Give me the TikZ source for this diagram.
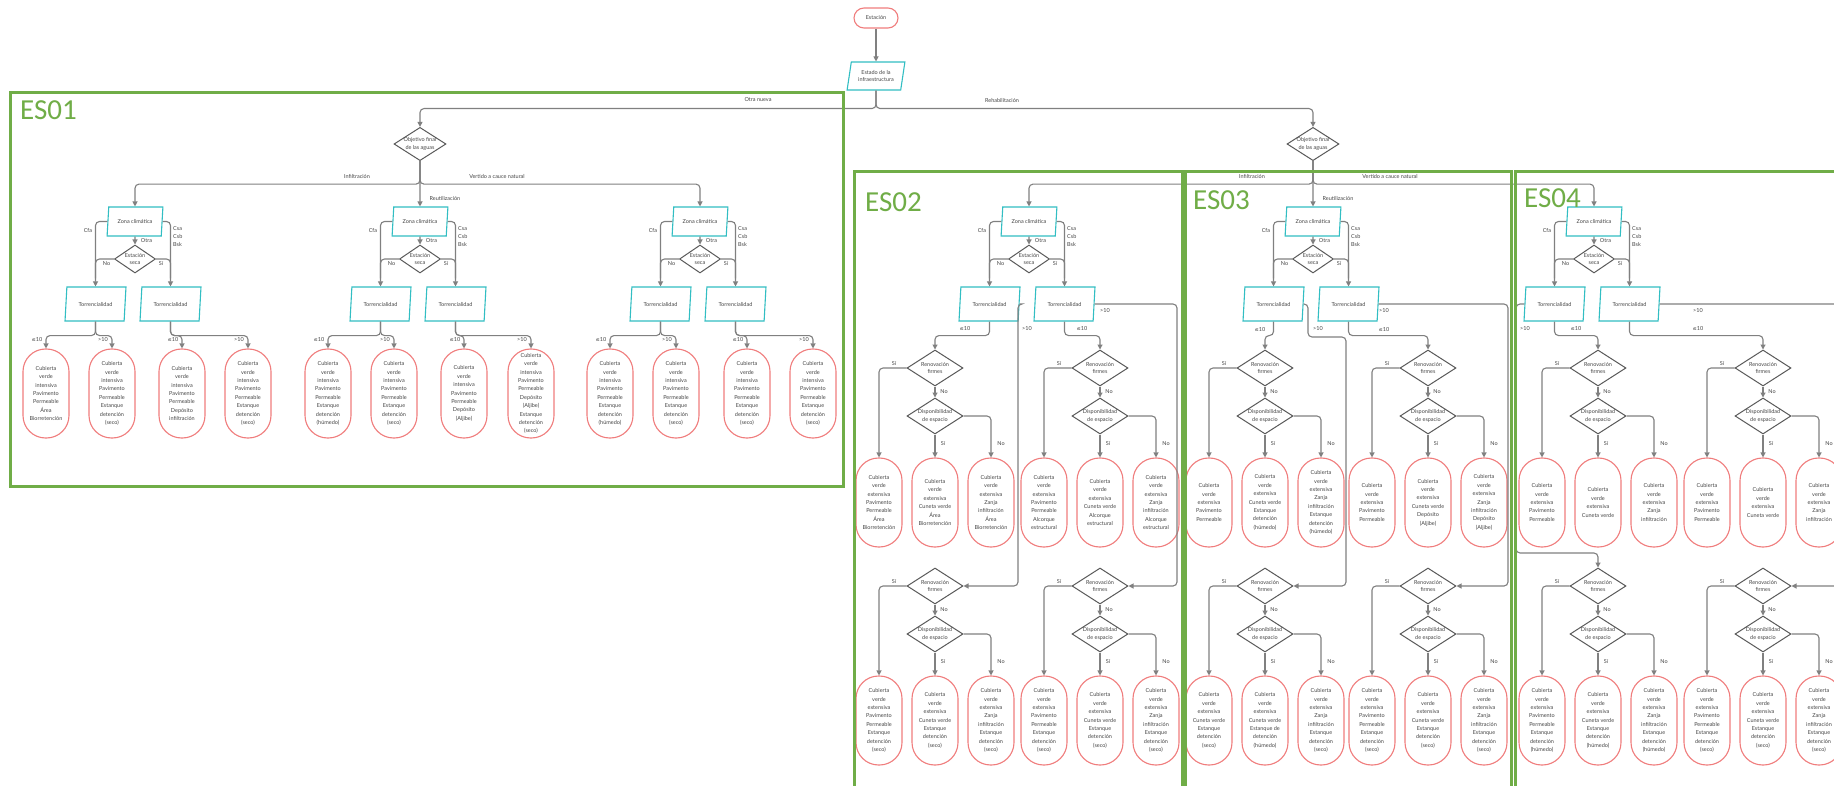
\documentclass[tikz,border=0pt]{standalone}
\usepackage{fontspec}
\setmainfont{Lato}
\newfontfamily\esfont{Carlito}
\newfontfamily\dejafont{DejaVu Sans}
\usetikzlibrary{shapes.geometric,arrows.meta,calc}
\definecolor{linegray}{RGB}{128,128,128}
\definecolor{diagray}{RGB}{90,90,90}
\definecolor{tealc}{RGB}{50,190,195}
\definecolor{ovalred}{RGB}{240,125,125}
\definecolor{esgreen}{RGB}{112,173,71}
\definecolor{txtgray}{RGB}{70,70,70}
\newcommand{\nodefont}{\fontsize{5.5}{7.2}\selectfont}
\newcommand{\ovalfont}{\fontsize{5.5}{8.4}\selectfont}
\newcommand{\lten}{{\dejafont\fontsize{5}{6}\selectfont ≤}10}
\newcommand{\gten}{>10}
\newcommand{\CVI}{Cubierta\\verde\\intensiva}
\newcommand{\CVE}{Cubierta\\verde\\extensiva}
\tikzset{
  conn/.style={draw=linegray,line width=1.1pt,rounded corners=4pt,-{Triangle[length=5pt,width=5pt]}},
  plainline/.style={draw=linegray,line width=1.1pt,rounded corners=4pt},
  dec/.style={diamond,aspect=1.55,draw=diagray,line width=1pt,inner sep=0pt,align=center,font=\nodefont,text=txtgray},
  io/.style={trapezium,trapezium left angle=75,trapezium right angle=105,trapezium stretches=true,draw=tealc,line width=1.1pt,inner sep=0pt,align=center,font=\nodefont,text=txtgray},
  term/.style={draw=ovalred,line width=1.1pt,rounded corners=22.5pt,minimum width=46pt,minimum height=89pt,inner sep=0pt,align=center,font=\ovalfont,text=txtgray},
  lbl/.style={inner sep=0pt,font=\nodefont,text=txtgray},
  esbox/.style={draw=esgreen,line width=3pt},
  eslbl/.style={inner sep=0pt,anchor=west,text=esgreen,font=\esfont\fontsize{29}{29}\selectfont}
}
\newcommand{\zblock}[2]{%
  \node[io,minimum width=56pt,minimum height=29pt] (#1-z) at (#2,221.5) {Zona climática};
  \node[dec,minimum width=41pt,minimum height=28pt] (#1-e) at (#2,259) {Estación\\seca};
  \node[io,minimum width=61pt,minimum height=34pt] (#1-tl) at (#2-39.5,304) {Torrencialidad};
  \node[io,minimum width=61pt,minimum height=34pt] (#1-tr) at (#2+35.5,304) {Torrencialidad};
  \draw[conn] (#1-z.west) -| (#1-tl.north);
  \draw[conn] (#1-z.east) -| (#1-tr.north);
  \draw[conn] (#1-z.south) -- (#1-e.north);
  \draw[plainline] (#1-e.west) -| ($(#1-tl.north)+(0,-8)$);
  \draw[plainline] (#1-e.east) -| ($(#1-tr.north)+(0,-8)$);
  \node[lbl] at (#2-47,231) {Cfa};
  \node[lbl,anchor=north west,align=left,font=\fontsize{5.5}{8.4}\selectfont] at (#2+38,226) {Csa\\Csb\\Bsk};
  \node[lbl] at (#2+11.5,241) {Otra};
  \node[lbl] at (#2-28.5,263.5) {No};
  \node[lbl] at (#2+26,263.5) {Sí};
}
\newcommand{\dtree}[6]{%
  \node[dec,minimum width=56pt,minimum height=36pt] (#1-r) at (#2,#3) {Renovación\\firmes};
  \node[dec,minimum width=56pt,minimum height=36pt] (#1-d) at (#2,#3+48) {Disponibilidad\\de espacio};
  \node[term] (#1-o1) at (#2-56,#3+134.5) {#4};
  \node[term] (#1-o2) at (#2,#3+134.5) {#5};
  \node[term] (#1-o3) at (#2+56,#3+134.5) {#6};
  \draw[conn] (#1-r.west) -| (#1-o1.north);
  \draw[conn] (#1-r.south) -- (#1-d.north);
  \draw[conn] (#1-d.south) -- (#1-o2.north);
  \draw[conn] (#1-d.east) -| (#1-o3.north);
  \node[lbl] at (#2-41,#3-4) {Sí};
  \node[lbl] at (#2+9,#3+24) {No};
  \node[lbl] at (#2+8,#3+76) {Sí};
  \node[lbl] at (#2+66,#3+76) {No};
}
\begin{document}
\begin{tikzpicture}[x=1pt,y=-1pt]
\useasboundingbox (0,0) rectangle (1834,786);
\fill[white] (0,0) rectangle (1834,786);
\clip (0,0) rectangle (1834,786);

% top
\node[term,minimum width=44pt,minimum height=20pt,rounded corners=10pt] (start) at (876,18) {Estación};
\node[io,minimum width=58pt,minimum height=28pt] (estado) at (876,76) {Estado de la\\infraestructura};
\node[dec,minimum width=52pt,minimum height=32pt] (obj1) at (420,144) {Objetivo final\\de las aguas};
\node[dec,minimum width=52pt,minimum height=32pt] (obj2) at (1313,144) {Objetivo final\\de las aguas};
\draw[conn] (start) -- (estado);
\draw[conn] (estado.south) -- ++(0,18) -| (obj1.north);
\draw[conn] (estado.south) -- ++(0,18) -| (obj2.north);
\node[lbl] at (758,100) {Otra nueva};
\node[lbl] at (1002,100) {Rehabilitación};

% ES01
\zblock{e1a}{135}
\zblock{e1b}{420}
\zblock{e1c}{700}
\draw[conn] (obj1.south) -- ++(0,23) -| (e1a-z.north);
\draw[conn] (obj1.south) -- (e1b-z.north);
\draw[conn] (obj1.south) -- ++(0,23) -| (e1c-z.north);
\node[lbl] at (357,176) {Infiltración};
\node[lbl] at (445,198) {Reutilización};
\node[lbl] at (497,176) {Vertido a cauce natural};

\node[term] (e1o1) at (46,393.5) {\CVI\\Pavimento\\Permeable\\Área\\Biorretención};
\node[term] (e1o2) at (112,393.5) {\CVI\\Pavimento\\Permeable\\Estanque\\detención\\(seco)};
\node[term] (e1o3) at (182,393.5) {\CVI\\Pavimento\\Permeable\\Depósito\\infiltración};
\node[term] (e1o4) at (248,393.5) {\CVI\\Pavimento\\Permeable\\Estanque\\detención\\(seco)};
\node[term] (e1o5) at (328,393.5) {\CVI\\Pavimento\\Permeable\\Estanque\\detención\\(húmedo)};
\node[term] (e1o6) at (394,393.5) {\CVI\\Pavimento\\Permeable\\Estanque\\detención\\(seco)};
\node[term] (e1o7) at (464,393.5) {\CVI\\Pavimento\\Permeable\\Depósito\\(Aljibe)};
\node[term] (e1o8) at (531,393.5) {\CVI\\Pavimento\\Permeable\\Depósito\\(Aljibe)\\Estanque\\detención\\(seco)};
\node[term] (e1o9) at (610,393.5) {\CVI\\Pavimento\\Permeable\\Estanque\\detención\\(húmedo)};
\node[term] (e1o10) at (676,393.5) {\CVI\\Pavimento\\Permeable\\Estanque\\detención\\(seco)};
\node[term] (e1o11) at (747,393.5) {\CVI\\Pavimento\\Permeable\\Estanque\\detención\\(seco)};
\node[term] (e1o12) at (813,393.5) {\CVI\\Pavimento\\Permeable\\Estanque\\detención\\(seco)};
\foreach \t/\a/\b in {e1a-tl/1/2,e1a-tr/3/4,e1b-tl/5/6,e1b-tr/7/8,e1c-tl/9/10,e1c-tr/11/12}{
  \draw[conn] (\t.south) -- ++(0,14) -| (e1o\a.north);
  \draw[conn] (\t.south) -- ++(0,14) -| (e1o\b.north);
  \node[lbl] at ($(e1o\a.north)+(-9,-9)$) {\lten};
  \node[lbl] at ($(e1o\b.north)+(-9,-9)$) {\gten};
}

% ES02-ES04
\zblock{e2}{1029}
\zblock{e3}{1313}
\zblock{e4}{1594}
\draw[conn] (obj2.south) -- ++(0,23) -| (e2-z.north);
\draw[conn] (obj2.south) -- (e3-z.north);
\draw[conn] (obj2.south) -- ++(0,23) -| (e4-z.north);
\node[lbl] at (1252,176.5) {Infiltración};
\node[lbl] at (1338,198) {Reutilización};
\node[lbl] at (1390,176.5) {Vertido a cauce natural};

% ES02
\dtree{e2u1}{935}{368}{\CVE\\Pavimento\\Permeable\\Área\\Biorretención}{\CVE\\Cuneta verde\\Área\\Biorretención}{\CVE\\Zanja\\infiltración\\Área\\Biorretención}
\dtree{e2u2}{1100}{368}{\CVE\\Pavimento\\Permeable\\Alcorque\\estructural}{\CVE\\Cuneta verde\\Alcorque\\estructural}{\CVE\\Zanja\\infiltración\\Alcorque\\estructural}
\dtree{e2l1}{935}{586}{\CVE\\Pavimento\\Permeable\\Estanque\\detención\\(seco)}{\CVE\\Cuneta verde\\Estanque\\detención\\(seco)}{\CVE\\Zanja\\infiltración\\Estanque\\detención\\(seco)}
\dtree{e2l2}{1100}{586}{\CVE\\Pavimento\\Permeable\\Estanque\\detención\\(seco)}{\CVE\\Cuneta verde\\Estanque\\detención\\(seco)}{\CVE\\Zanja\\infiltración\\Estanque\\detención\\(seco)}
\draw[conn] (e2-tl.south) -- ++(0,14) -| (e2u1-r.north);
\node[lbl] at (965,329) {\lten};
\draw[conn] (e2-tr.south) -- ++(0,14) -| (e2u2-r.north);
\node[lbl] at (1082,329) {\lten};
\draw[conn] (e2-tl.east) -| (1018,586) -- (e2l1-r.east);
\node[lbl] at (1027,329) {\gten};
\draw[conn] (e2-tr.east) -| (1177,586) -- (e2l2-r.east);
\node[lbl] at (1105,311) {\gten};

% ES03
\dtree{e3u1}{1265}{368}{\CVE\\Pavimento\\Permeable}{\CVE\\Cuneta verde\\Estanque\\detención\\(húmedo)}{\CVE\\Zanja\\infiltración\\Estanque\\detención\\(húmedo)}
\dtree{e3u2}{1428}{368}{\CVE\\Pavimento\\Permeable}{\CVE\\Cuneta verde\\Depósito\\(Aljibe)}{\CVE\\Zanja\\infiltración\\Depósito\\(Aljibe)}
\dtree{e3l1}{1265}{586}{\CVE\\Cuneta verde\\Estanque\\detención\\(seco)}{\CVE\\Cuneta verde\\Estanque de\\detención\\(húmedo)}{\CVE\\Zanja\\infiltración\\Estanque\\detención\\(seco)}
\dtree{e3l2}{1428}{586}{\CVE\\Pavimento\\Permeable\\Estanque\\detención\\(seco)}{\CVE\\Cuneta verde\\Estanque\\detención\\(seco)}{\CVE\\Zanja\\infiltración\\Estanque\\detención\\(seco)}
\draw[conn] (e3-tl.south) -- ++(0,14) -| (e3u1-r.north);
\node[lbl] at (1260,330) {\lten};
\draw[conn] (e3-tr.south) -- ++(0,14) -| (e3u2-r.north);
\node[lbl] at (1384,330) {\lten};
\draw[conn] (e3-tl.east) -| (1308,337) -| (1346,586) -- (e3l1-r.east);
\node[lbl] at (1318,329) {\gten};
\draw[conn] (e3-tr.east) -| (1508,586) -- (e3l2-r.east);
\node[lbl] at (1384,311) {\gten};

% ES04
\dtree{e4u1}{1598}{368}{\CVE\\Pavimento\\Permeable}{\CVE\\Cuneta verde}{\CVE\\Zanja\\infiltración}
\dtree{e4u2}{1763}{368}{\CVE\\Pavimento\\Permeable}{\CVE\\Cuneta verde}{\CVE\\Zanja\\infiltración}
\dtree{e4l1}{1598}{586}{\CVE\\Pavimento\\Permeable\\Estanque\\detención\\(húmedo)}{\CVE\\Cuneta verde\\Estanque\\detención\\(húmedo)}{\CVE\\Zanja\\infiltración\\Estanque\\detención\\(húmedo)}
\dtree{e4l2}{1763}{586}{\CVE\\Pavimento\\Permeable\\Estanque\\detención\\(seco)}{\CVE\\Cuneta verde\\Estanque\\detención\\(seco)}{\CVE\\Zanja\\infiltración\\Estanque\\detención\\(seco)}
\draw[conn] (e4-tl.south) -- ++(0,14) -| (e4u1-r.north);
\node[lbl] at (1576,329) {\lten};
\draw[conn] (e4-tr.south) -- ++(0,14) -| (e4u2-r.north);
\node[lbl] at (1698,329) {\lten};
\draw[conn] (e4-tl.west) -| (1516,553) -| (e4l1-r.north);
\node[lbl] at (1525,329) {\gten};
\draw[conn] (e4-tr.east) -| (1850,586) -- (e4l2-r.east);
\node[lbl] at (1698,311) {\gten};

% group frames
\draw[esbox] (10,93) rectangle (843,486);
\draw[esbox] (854,172) rectangle (1182,800);
\draw[esbox] (1185,172) rectangle (1511,800);
\draw[esbox] (1515,172) rectangle (1860,800);
\node[eslbl] at (20,110) {ES01};
\node[eslbl] at (865,202) {ES02};
\node[eslbl] at (1193,200) {ES03};
\node[eslbl] at (1524,198) {ES04};
\end{tikzpicture}
\end{document}
